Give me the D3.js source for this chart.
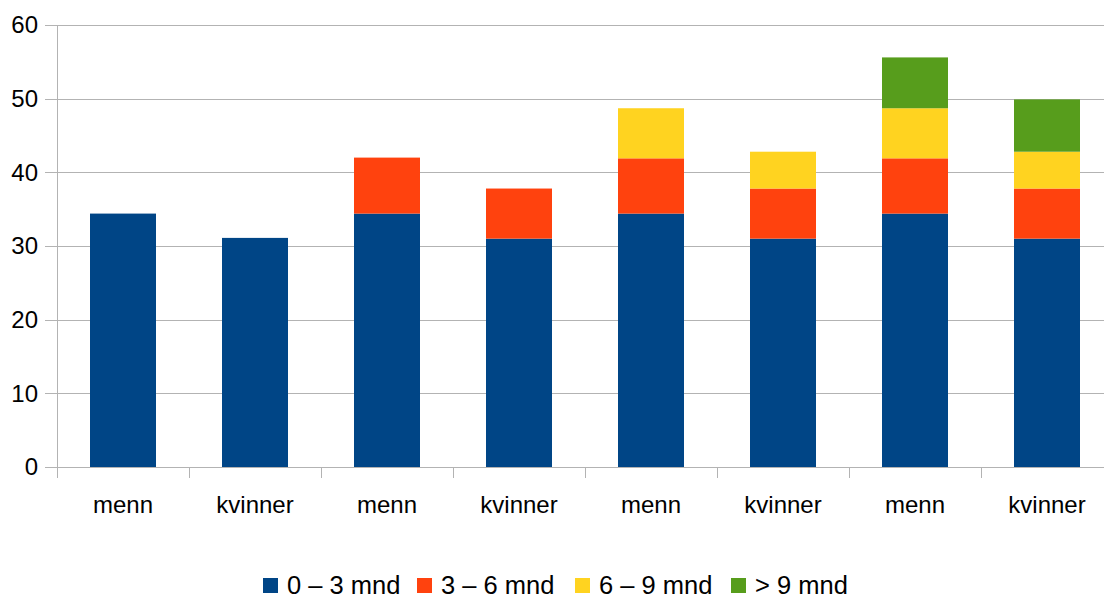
<!DOCTYPE html>
<html>
<head>
<meta charset="utf-8">
<script src="https://cdn.jsdelivr.net/npm/d3@7"></script>
<style>
  body { margin: 0; background: #fff; }
  text { font-family: "Liberation Sans", Arial, sans-serif; fill: #000; }
</style>
</head>
<body>
<svg id="chart" width="1104" height="597"></svg>
<script>
// data
var categories = ["menn", "kvinner", "menn", "kvinner", "menn", "kvinner", "menn", "kvinner"];
var seriesNames = ["0 – 3 mnd", "3 – 6 mnd", "6 – 9 mnd", "> 9 mnd"];
var s0to3 = [34.4, 31.1, 34.4, 31.0, 34.4, 31.0, 34.4, 31.0];
var s3to6 = [0, 0, 7.6, 6.8, 7.5, 6.8, 7.5, 6.8];
var s6to9 = [0, 0, 0, 0, 6.8, 5.0, 6.8, 5.0];
var sOver9 = [0, 0, 0, 0, 0, 0, 6.9, 7.1];
var yTicks = [0, 10, 20, 30, 40, 50, 60];
var colors = ["#004586", "#ff420e", "#ffd320", "#579d1c"];

var svg = d3.select("#chart");

var plotLeft = 57, plotRight = 1113, plotTop = 25, plotBottom = 467;

var rows = categories.map(function(c, i) {
  return { idx: i, a: s0to3[i], b: s3to6[i], c: s6to9[i], d: sOver9[i] };
});
var keys = ["a", "b", "c", "d"];
var stacked = d3.stack().keys(keys)(rows);

var x = d3.scaleBand().domain(d3.range(categories.length)).range([plotLeft, plotRight]).paddingInner(0.5).paddingOuter(0.25);
var y = d3.scaleLinear().domain([0, 60]).range([plotBottom, plotTop]);

// gridlines
svg.append("g")
  .selectAll("line")
  .data(yTicks)
  .enter().append("line")
  .attr("x1", plotLeft - 12).attr("x2", plotRight)
  .attr("y1", function(d){ return Math.round(y(d)) + 0.5; })
  .attr("y2", function(d){ return Math.round(y(d)) + 0.5; })
  .attr("stroke", "#b3b3b3").attr("stroke-width", 1);

// y labels
svg.append("g")
  .selectAll("text")
  .data(yTicks)
  .enter().append("text")
  .attr("x", 38)
  .attr("y", function(d){ return y(d); })
  .attr("dy", "0.35em")
  .attr("text-anchor", "end")
  .style("font-size", "24px")
  .text(function(d){ return d; });

// bars
var bandStep = x.step();
svg.append("g")
  .selectAll("g")
  .data(stacked)
  .enter().append("g")
  .attr("fill", function(d, i){ return colors[i]; })
  .selectAll("rect")
  .data(function(d){ return d.filter(function(p){ return p[1] - p[0] > 0; }); })
  .enter().append("rect")
  .attr("x", function(d){ return x(d.data.idx); })
  .attr("width", x.bandwidth())
  .attr("y", function(d){ return y(d[1]); })
  .attr("height", function(d){ return y(d[0]) - y(d[1]); });

// y axis line
svg.append("line")
  .attr("x1", plotLeft + 0.5).attr("x2", plotLeft + 0.5)
  .attr("y1", plotTop).attr("y2", plotBottom + 11)
  .attr("stroke", "#b3b3b3");

// category ticks
svg.append("g")
  .selectAll("line")
  .data(d3.range(categories.length + 1))
  .enter().append("line")
  .attr("x1", function(d){ return Math.round(plotLeft + d * bandStep) + 0.5; })
  .attr("x2", function(d){ return Math.round(plotLeft + d * bandStep) + 0.5; })
  .attr("y1", plotBottom).attr("y2", plotBottom + 11)
  .attr("stroke", "#b3b3b3");

// category labels
svg.append("g")
  .selectAll("text")
  .data(categories)
  .enter().append("text")
  .attr("x", function(d, i){ return x(i) + x.bandwidth() / 2; })
  .attr("y", 513)
  .attr("text-anchor", "middle")
  .style("font-size", "24px")
  .text(function(d){ return d; });

// legend
var legendX = [263, 417, 575, 731];
var legend = svg.append("g")
  .selectAll("g")
  .data(seriesNames)
  .enter().append("g")
  .attr("transform", function(d, i){ return "translate(" + legendX[i] + ",578)"; });
legend.append("rect")
  .attr("width", 15).attr("height", 15)
  .attr("fill", function(d, i){ return colors[i]; });
legend.append("text")
  .attr("x", 24).attr("y", 7)
  .attr("dy", "0.35em")
  .style("font-size", "25.5px")
  .text(function(d){ return d; });
</script>
</body>
</html>
